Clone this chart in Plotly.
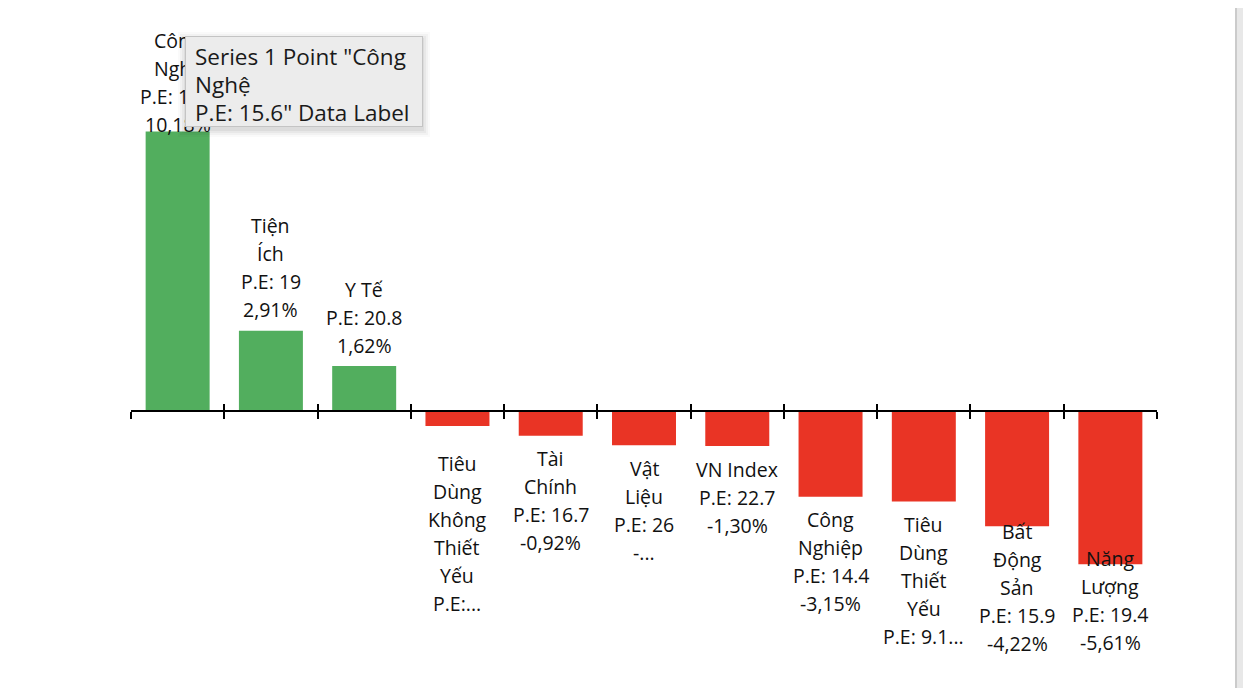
import plotly.graph_objects as go

# ---------------- data ----------------
categories = ["Công Nghệ", "Tiện Ích", "Y Tế", "Tiêu Dùng Không Thiết Yếu", "Tài Chính",
              "Vật Liệu", "VN Index", "Công Nghiệp", "Tiêu Dùng Thiết Yếu", "Bất Động Sản",
              "Năng Lượng"]
changes = [10.18, 2.91, 1.62, -0.57, -0.92, -1.27, -1.30, -3.15, -3.32, -4.22, -5.61]
label_lines = [
    ["Công", "Nghệ", "P.E: 15.6", "10,18%"],
    ["Tiện", "Ích", "P.E: 19", "2,91%"],
    ["Y Tế", "P.E: 20.8", "1,62%"],
    ["Tiêu", "Dùng", "Không", "Thiết", "Yếu", "P.E:..."],
    ["Tài", "Chính", "P.E: 16.7", "-0,92%"],
    ["Vật", "Liệu", "P.E: 26", "-..."],
    ["VN Index", "P.E: 22.7", "-1,30%"],
    ["Công", "Nghiệp", "P.E: 14.4", "-3,15%"],
    ["Tiêu", "Dùng", "Thiết", "Yếu", "P.E: 9.1..."],
    ["Bất", "Động", "Sản", "P.E: 15.9", "-4,22%"],
    ["Năng", "Lượng", "P.E: 19.4", "-5,61%"],
]
# lines cut away by truncation (label stays centred on its full height)
hidden_lines = [0, 0, 0, 1, 0, 0, 0, 0, 0, 0, 0]
tooltip_lines = ['Series 1 Point "Công', "Nghệ", 'P.E: 15.6" Data Label']

# ---------------- style / layout ----------------
OFF = 8                    # page body margin offset in the browser
W, H = 1251 - OFF, 688 - OFF
ML = 131 - OFF
MR = W - (1157 - OFF)
SCALE = 27.4               # px per percentage point
ZERO_PX = 410.5 - OFF      # zero line row inside the figure
YMAX = ZERO_PX / SCALE
YMIN = -(H - ZERO_PX) / SCALE
LINE = 28
GAP_POS, GAP_NEG = 21, 23
TOP_LIMIT, BOTTOM_LIMIT = 40 - OFF, 643 - OFF
GREEN, RED = "#52ae5e", "#e93425"
FONT = "Open Sans"


def px_x(p):  # screen pixel -> paper x
    return (p - OFF - ML) / (W - ML - MR)


def px_y(p):  # screen pixel -> paper y
    return 1 - (p - OFF) / H


fig = go.Figure()
fig.add_trace(go.Bar(
    x=categories, y=changes,
    marker=dict(color=[GREEN if v >= 0 else RED for v in changes], line=dict(width=0)),
    hoverinfo="skip", showlegend=False,
))
fig.add_trace(go.Scatter(
    x=categories, y=[0] * len(categories), xaxis="x2", mode="markers",
    marker=dict(opacity=0), hoverinfo="skip", showlegend=False,
))

annotations = []
for cat, v, lines, hid in zip(categories, changes, label_lines, hidden_lines):
    bar_px = ZERO_PX - v * SCALE
    n = len(lines)
    if v >= 0:
        first = bar_px - GAP_POS - (n - 1) * LINE
        if first < TOP_LIMIT:
            first = TOP_LIMIT
    else:
        first = bar_px + GAP_NEG + hid * LINE / 2
        if first + (n - 1) * LINE > BOTTOM_LIMIT:
            first = BOTTOM_LIMIT - (n - 1) * LINE
    for k, txt in enumerate(lines):
        center = first + k * LINE
        annotations.append(dict(
            x=cat, y=v, xref="x", yref="y", text=txt, showarrow=False,
            xanchor="center", yanchor="middle", yshift=bar_px - center,
            font=dict(family=FONT, size=19.5, color="#111111"),
        ))

# tooltip (UI overlay) drawn as annotations so it covers the data labels
TX0, TX1, TY0, TY1 = 185, 423, 36, 127
for grow, alpha in [(7, 0.02), (5, 0.03), (3, 0.04), (1, 0.05)]:
    annotations.append(dict(
        xref="paper", yref="paper", x=px_x(TX0 - grow), y=px_y(TY0 - grow + 3),
        xanchor="left", yanchor="top", text=" ", showarrow=False,
        width=TX1 - TX0 + 2 * grow, height=TY1 - TY0 + 2 * grow, borderpad=0, borderwidth=0,
        bgcolor=f"rgba(0,0,0,{alpha})",
    ))
annotations.append(dict(
    xref="paper", yref="paper", x=px_x(TX0), y=px_y(TY0),
    xanchor="left", yanchor="top", text=" ", showarrow=False,
    width=TX1 - TX0 - 2, height=TY1 - TY0 - 2, borderpad=0, borderwidth=1,
    bgcolor="#ececec", bordercolor="#c4c4c4",
))
for k, txt in enumerate(tooltip_lines):
    annotations.append(dict(
        xref="paper", yref="paper", x=px_x(193), y=px_y(57 + k * 27.5),
        xanchor="left", yanchor="middle", text=txt, showarrow=False, align="left",
        font=dict(family=FONT, size=22.5, color="#1a1a1a"),
    ))

shapes = [
    # right-side grey strip
    dict(type="rect", xref="paper", yref="paper",
         x0=px_x(1236), x1=px_x(1262), y0=-0.05, y1=1.05,
         fillcolor="#e8e8e8", line=dict(color="#cbcbcb", width=2), layer="above"),
]

common_x = dict(
    type="category", range=[-0.5, len(categories) - 0.5], anchor="free",
    position=(0 - YMIN) / (YMAX - YMIN), showgrid=False, zeroline=False,
    showticklabels=False, tickson="boundaries", tickcolor="#000000", tickwidth=2,
)
fig.update_layout(
    width=W, height=H,
    margin=dict(l=ML, r=MR, t=0, b=0, autoexpand=False),
    paper_bgcolor="white", plot_bgcolor="white",
    bargap=0.314,
    xaxis=dict(**common_x, showline=True, linecolor="#000000", linewidth=2,
               ticks="outside", ticklen=7),
    xaxis2=dict(**common_x, overlaying="x", showline=False, ticks="inside", ticklen=7),
    yaxis=dict(range=[YMIN, YMAX], visible=False, showgrid=False, zeroline=False),
    annotations=annotations, shapes=shapes,
    hovermode=False,
)
fig.write_html("out.html", config={"displayModeBar": False})
